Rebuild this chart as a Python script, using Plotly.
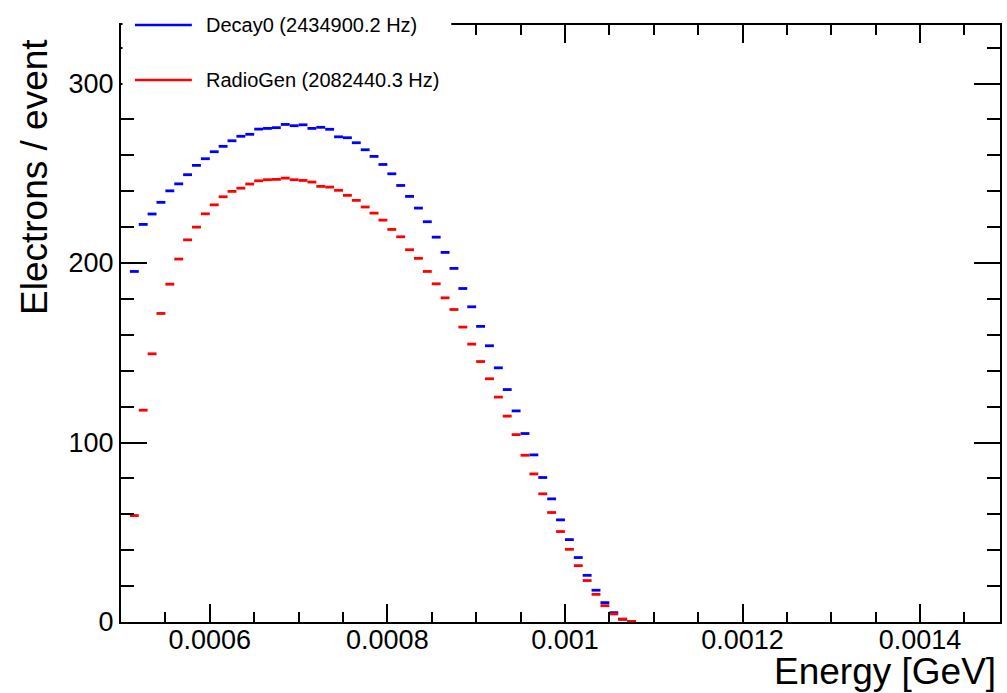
import plotly.graph_objects as go

# Histogram binning: 10 keV bins, first filled bin centred at 0.515 keV (values in GeV)
bin_width = 1e-5
first_center = 0.000515

decay0 = [
    195.3, 221.5, 227.3, 233.8, 240.2, 244.1, 249.2, 254.4, 258.1, 262.0,
    265.0, 268.1, 270.6, 271.7, 274.6, 275.0, 275.4, 277.2, 276.5, 277.0,
    275.0, 275.6, 274.5, 270.3, 269.8, 267.0, 263.1, 259.4, 254.9, 249.7,
    243.2, 237.1, 230.6, 223.0, 214.4, 205.9, 197.0, 185.8, 175.6, 164.7,
    153.9, 141.6, 129.5, 117.6, 105.0, 93.1, 80.5, 68.6, 56.9, 45.9,
    35.9, 26.0, 17.7, 10.8, 5.2, 1.6, 0.2,
]

radiogen = [
    59.3, 118.0, 149.4, 171.9, 188.2, 202.2, 212.9, 220.0, 227.4, 232.4,
    236.9, 239.9, 241.7, 244.0, 245.8, 246.4, 246.6, 247.3, 246.4, 246.0,
    245.1, 242.7, 242.3, 240.5, 237.7, 234.9, 231.2, 227.8, 223.9, 218.7,
    214.6, 207.4, 202.6, 195.3, 188.4, 180.6, 174.1, 164.3, 154.8, 145.1,
    135.5, 125.3, 114.7, 104.4, 92.9, 82.5, 71.4, 61.0, 50.4, 40.5,
    31.4, 23.1, 15.4, 9.1, 4.5, 1.5, 0.3,
]

series_names = ["Decay0 (2434900.2 Hz)", "RadioGen (2082440.3 Hz)"]
series_colors = ["rgb(0,0,255)", "rgb(255,0,0)"]

x_title = "Energy [GeV]"
y_title = "Electrons / event"

centers = [first_center + i * bin_width for i in range(len(decay0))]

W, H = 1007, 693
ML, MR, MT, MB = 121, 5, 25, 71
PW, PH = W - ML - MR, H - MT - MB


def px_x(px):
    return (px - ML) / PW


def px_y(py):
    return (H - MB - py) / PH


FONT = "Liberation Sans, Arial, Helvetica, sans-serif"

fig = go.Figure()

# Each bin is drawn ROOT-style as a horizontal segment spanning the bin width
for vals, name, col in zip([decay0, radiogen], series_names, series_colors):
    fig.add_trace(go.Scatter(
        x=centers, y=vals, name=name, mode="markers",
        marker=dict(size=1, color="rgba(0,0,0,0)"),
        error_x=dict(type="constant", value=bin_width / 2, width=0,
                     thickness=2.8, color=col),
        showlegend=False, hoverinfo="x+y",
    ))

axis_common = dict(
    showline=True, linecolor="black", linewidth=2, mirror="allticks",
    ticks="inside", tickcolor="black", tickwidth=1.5,
    showgrid=False, zeroline=False,
    tickfont=dict(family=FONT, size=27, color="black"),
)

fig.update_xaxes(
    range=[0.0005, 0.00149], tick0=0.0, dtick=0.0002, ticklen=18,
    exponentformat="none", ticklabelstandoff=-7,
    minor=dict(ticks="inside", dtick=0.00005, tick0=0.0, ticklen=10,
               tickcolor="black", tickwidth=1.5, showgrid=False),
    **axis_common,
)
fig.update_yaxes(
    range=[0, 332.6], tick0=0, dtick=100, ticklen=26,
    minor=dict(ticks="inside", dtick=20, tick0=0, ticklen=13,
               tickcolor="black", tickwidth=1.5, showgrid=False),
    **axis_common,
)

shapes = [
    # legend box (white, borderless) sitting over the top frame
    dict(type="rect", xref="paper", yref="paper", layer="above",
         x0=px_x(122.5), x1=px_x(452), y0=px_y(108), y1=px_y(0),
         fillcolor="white", line=dict(width=0)),
]
annotations = []
for i, (name, col) in enumerate(zip(series_names, series_colors)):
    ypix = 25 + 55 * i
    shapes.append(dict(type="line", xref="paper", yref="paper", layer="above",
                       x0=px_x(135), x1=px_x(192), y0=px_y(ypix), y1=px_y(ypix),
                       line=dict(color=col, width=2.5)))
    annotations.append(dict(text=name, xref="paper", yref="paper",
                            x=px_x(204), y=px_y(ypix), xanchor="left",
                            yanchor="middle", showarrow=False,
                            font=dict(family=FONT, size=20, color="black")))

annotations.append(dict(text=x_title, xref="paper", yref="paper", x=1, y=0,
                        xanchor="right", yanchor="middle", xshift=-2, yshift=-49,
                        showarrow=False,
                        font=dict(family=FONT, size=37, color="black")))
annotations.append(dict(text=y_title, xref="paper", yref="paper", x=0, y=1,
                        xanchor="center", yanchor="top", xshift=-87, yshift=-12,
                        textangle=-90, showarrow=False,
                        font=dict(family=FONT, size=37, color="black")))

fig.update_layout(
    width=W, height=H,
    margin=dict(l=ML, r=MR, t=MT, b=MB),
    paper_bgcolor="white", plot_bgcolor="white",
    shapes=shapes, annotations=annotations,
    showlegend=False,
)

fig.write_html("out.html")
